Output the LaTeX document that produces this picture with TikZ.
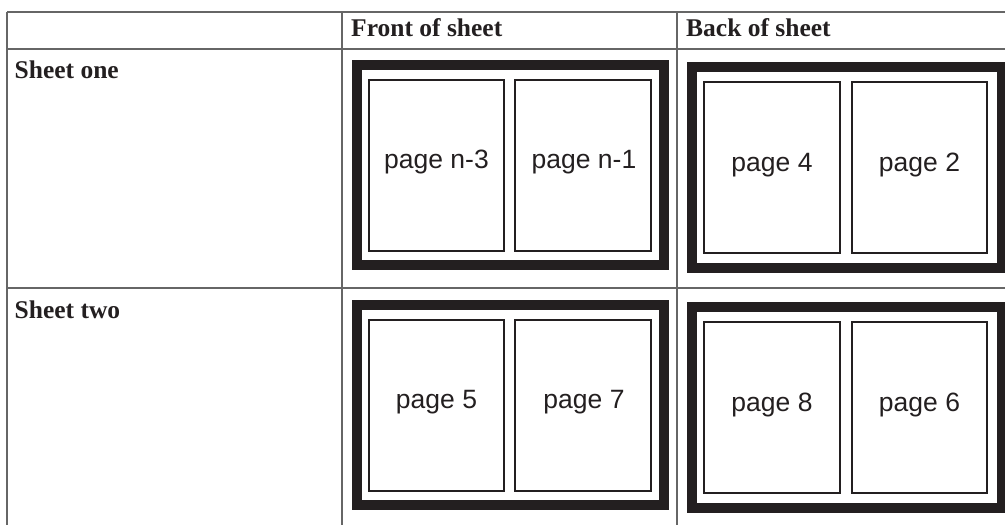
\documentclass[tikz,border=0pt]{standalone}
\usepackage{fontspec}
\setmainfont{Liberation Serif}
\newfontfamily\pagefont{Liberation Sans}
\definecolor{ink}{HTML}{231F20}
\definecolor{rule}{HTML}{666666}
\begin{document}
\begin{tikzpicture}[x=1pt,y=-1pt,
  gridline/.style={draw=rule,line width=1.3pt},
  sheetframe/.style={draw=ink,line width=10pt,inner sep=0pt,minimum width=#1},
  pagebox/.style={draw=ink,line width=1.6pt,inner sep=0pt,minimum width=#1,minimum height=171pt},
  headtxt/.style={anchor=base west,inner sep=0pt,text=ink,font=\fontsize{25.5}{30}\selectfont\bfseries},
  pagetxt/.style={anchor=base,inner sep=0pt,text=ink,font=\pagefont\fontsize{26.5}{30}\selectfont}]
\useasboundingbox (0,0) rectangle (1005,525);
% table grid
\coordinate (tl) at (7,12);   \coordinate (tr) at (1005,12);
\coordinate (hl) at (7,49);   \coordinate (hr) at (1005,49);
\coordinate (rl) at (7,288);  \coordinate (rr) at (1005,288);
\coordinate (c0t) at (7,12);   \coordinate (c0b) at (7,525);
\coordinate (c1t) at (342,12); \coordinate (c1b) at (342,525);
\coordinate (c2t) at (677,12); \coordinate (c2b) at (677,525);
\draw[gridline] (tl) -- (tr);
\draw[gridline] (hl) -- (hr);
\draw[gridline] (rl) -- (rr);
\draw[gridline] (c0t) -- (c0b);
\draw[gridline] (c1t) -- (c1b);
\draw[gridline] (c2t) -- (c2b);
% headers
\node[headtxt] (hfront) at (351,36.7) {Front of sheet};
\node[headtxt] (hback) at (686,36.7) {Back of sheet};
\node[headtxt] (hone) at (14.5,78.3) {Sheet one};
\node[headtxt] (htwo) at (14.5,318.3) {Sheet two};
% sheet one front
\node[sheetframe=307pt,minimum height=200pt] (f1) at (510.5,165) {};
\node[pagebox=135pt] (p1a) at (436.5,165.5) {};
\node[pagebox=136pt] (p1b) at (583,165.5) {};
\node[pagetxt] (t1a) at (436.5,168) {page n-3};
\node[pagetxt] (t1b) at (584,168) {page n-1};
% sheet one back
\node[sheetframe=310pt,minimum height=201pt] (b1) at (847,167.5) {};
\node[pagebox=136pt] (q1a) at (772,167.5) {};
\node[pagebox=135pt] (q1b) at (919.5,167.5) {};
\node[pagetxt] (u1a) at (772,171) {page 4};
\node[pagetxt] (u1b) at (919.5,171) {page 2};
% sheet two front
\node[sheetframe=307pt,minimum height=200pt] (f2) at (510.5,405) {};
\node[pagebox=135pt] (p2a) at (436.5,405.5) {};
\node[pagebox=136pt] (p2b) at (583,405.5) {};
\node[pagetxt] (t2a) at (436.5,408) {page 5};
\node[pagetxt] (t2b) at (584,408) {page 7};
% sheet two back
\node[sheetframe=310pt,minimum height=201pt] (b2) at (847,407.5) {};
\node[pagebox=136pt] (q2a) at (772,407.5) {};
\node[pagebox=135pt] (q2b) at (919.5,407.5) {};
\node[pagetxt] (u2a) at (772,411) {page 8};
\node[pagetxt] (u2b) at (919.5,411) {page 6};
\end{tikzpicture}
\end{document}
